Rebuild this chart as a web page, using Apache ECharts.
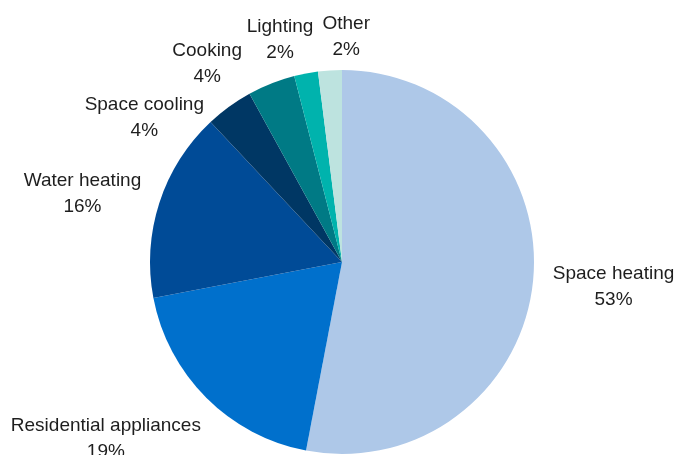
<!DOCTYPE html>
<html><head><meta charset="utf-8">
<script src="https://cdn.jsdelivr.net/npm/echarts@6/dist/echarts.min.js"></script>
<style>html,body{margin:0;padding:0;background:#fff}#c{width:677px;height:455px}</style>
</head><body><div id="c"></div>
<script>
const categories = ['Space heating','Residential appliances','Water heating','Space cooling','Cooking','Lighting','Other'];
const values = [53,19,16,4,4,2,2];
const colors = ['#aec8e8','#0070cc','#004b97','#003764','#007a85','#00b3ad','#bde3df'];
// small label nudges (px) to mimic the reference's best-fit label placement
const labelNudgeX = [0,-19,-2,-38,-44,-16,19];
const labelNudgeY = [2,8,5,48,23,12,12];

const CX = 342, CY = 262, R = 192, GAP = 20;
const total = values.reduce((a,b)=>a+b,0);
const midAngles = [];
{ let acc = 0; values.forEach(v => { midAngles.push((acc + v/2)/total * 2*Math.PI); acc += v; }); }

const chart = echarts.init(document.getElementById('c'));
chart.setOption({
  animation: false,
  series: [{
    type: 'pie',
    center: [CX, CY],
    radius: R,
    startAngle: 90,
    clockwise: true,
    avoidLabelOverlap: false,
    data: categories.map((n,i)=>({name:n, value:values[i], itemStyle:{color:colors[i]}})),
    label: {
      show: true,
      position: 'outside',
      overflow: 'none',
      formatter: p => p.name + '\n' + p.value + '%',
      fontFamily: 'Liberation Sans',
      fontSize: 19,
      lineHeight: 26,
      color: '#1e1e1e'
    },
    labelLine: { show: false, length: 14, length2: 0 },
    labelLayout: function (p) {
      const i = p.dataIndex;
      const a = midAngles[i];
      const dx = Math.sin(a), dy = -Math.cos(a);
      const w = p.labelRect.width, h = p.labelRect.height;
      const x = CX + (R + GAP) * dx + dx * w/2 + labelNudgeX[i];
      const y = CY + (R + GAP) * dy + dy * h/2 + labelNudgeY[i];
      return { x: x, y: y, align: 'center', verticalAlign: 'middle' };
    }
  }]
});
</script></body></html>
